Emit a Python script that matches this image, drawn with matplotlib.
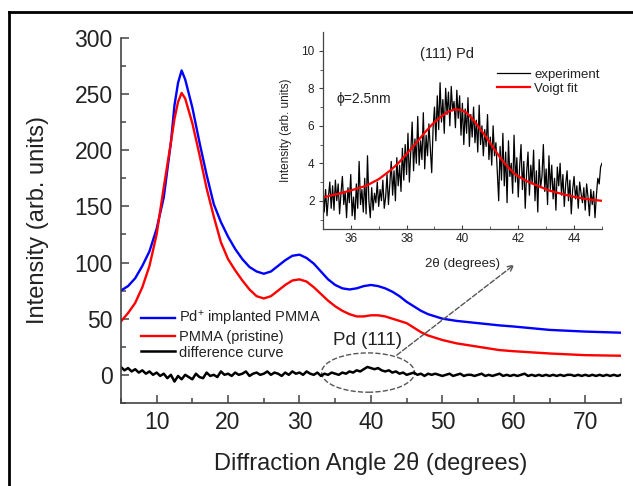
import matplotlib
matplotlib.use('Agg')
import matplotlib.pyplot as plt
from matplotlib.patches import Ellipse
from matplotlib.lines import Line2D
import numpy as np

plt.rcParams['font.family'] = ['Liberation Sans', 'DejaVu Sans']
plt.rcParams['mathtext.fontset'] = 'custom'
plt.rcParams['mathtext.rm'] = 'Liberation Sans'
plt.rcParams['mathtext.it'] = 'Liberation Sans:italic'

# main panel: broad PMMA scans
angle = [5, 6, 7, 8, 9, 10, 11, 12, 12.5, 13, 13.5, 14, 15, 16, 17, 18, 19, 20,
         21, 22, 23, 24, 25, 26, 27, 28, 29, 30, 31, 32, 33, 34, 35, 36, 37, 38,
         39, 40, 41, 42, 43, 44, 45, 46, 47, 48, 49, 50, 52, 55, 58, 60, 65, 70, 75]
pd_implanted = [75, 79, 86, 97, 110, 130, 158, 207, 240, 260, 271, 263, 238, 207,
                178, 152, 136, 123, 112, 103, 96, 92, 90, 92, 97, 102, 106, 107,
                104, 99, 92, 85, 80, 77, 76, 77, 79, 80, 79, 77, 74, 70, 65, 61,
                57, 54, 52, 50, 48, 46, 44, 43, 40, 38.5, 37.5]
pmma_pristine = [47.5, 55, 64, 78, 97, 125, 167, 207, 228, 243, 251, 246, 224,
                 196, 166, 141, 118, 103, 93, 84, 76, 70, 68, 70, 75, 80, 84, 85,
                 83, 78, 72, 66, 61, 57, 54, 52, 52, 53, 53, 52, 50, 48, 46, 42,
                 38, 35, 33, 31, 28, 25, 22, 21, 19, 17.5, 17]

# difference curve, every 0.5 degree from 5 to 75
diff_angle = [5 + 0.5 * i for i in range(141)]
difference = [7, 4, 6, 3, 5, 2, 4, 1, 3, 0,
              2, -1, 1, -3, 0, -6, -1, -4, 0, -2,
              -4, 1, -2, -3, 2, -1, 0, -2, 3, 0,
              1, -1, 2, 0, 1, 3, -1, 1, 2, 0,
              1, 3, 0, 2, 1, -1, 2, 0, 3, 1,
              2, 0, 3, 1, 0, 2, -1, 1, 0, 2,
              1, 0, 2, 1, 3, 2, 4, 3, 5, 7,
              6, 5, 6, 4, 3, 4, 2, 3, 1, 2,
              0, 1, 2, 0, 1, -1, 1, 0, 1, 0,
              -1, 0, 1, -1, 0, 1, -1, 0, 0, -1,
              0, 1, -1, 0, -1, 0, 1, -1, 0, -1,
              0, -1, 0, 1, -1, 0, -1, 0, -1, 0,
              -1, 0, -1, 0, -1, 0, 0, -1, 0, -1,
              0, -1, 0, -1, 0, -1, 0, -1, 0, -1, 0]

# inset: (111) Pd reflection, every 0.05 degree from 35 to 45
exp_angle = [35 + 0.05 * i for i in range(201)]
experiment = [2.9, 1.4, 2.6, 1.2, 2.2, 3.0, 1.6, 2.8, 1.5, 3.1,
              2.0, 2.9, 1.3, 2.4, 3.3, 1.8, 2.5, 1.1, 2.7, 1.9,
              3.4, 1.2, 2.2, 1.0, 2.9, 1.6, 4.1, 1.8, 2.6, 1.4,
              3.2, 1.3, 4.4, 2.0, 1.1, 2.7, 1.5, 2.4, 1.9, 3.0,
              1.7, 2.6, 2.0, 3.1, 1.6, 2.2, 3.4, 1.8, 2.9, 4.1,
              2.3, 3.6, 2.0, 4.3, 2.8, 3.9, 2.5, 4.8, 3.1, 5.0,
              3.4, 5.6, 3.0, 4.6, 6.2, 3.6, 5.3, 4.0, 6.5, 3.9,
              5.2, 4.2, 6.7, 3.7, 5.5, 4.4, 6.1, 4.8, 3.5, 5.9,
              7.0, 5.2, 7.6, 5.8, 8.3, 6.2, 7.4, 5.6, 8.0, 6.6,
              7.8, 6.0, 8.1, 6.8, 7.3, 5.9, 7.9, 6.4, 7.6, 5.5,
              7.2, 5.0, 6.9, 5.6, 7.5, 4.9, 6.6, 5.4, 7.0, 5.1,
              6.3, 4.6, 7.1, 5.0, 6.0, 4.4, 5.8, 4.9, 6.6, 4.2,
              5.4, 3.9, 6.0, 4.4, 5.1, 3.6, 2.0, 4.9, 3.1, 5.6,
              2.8, 4.6, 1.9, 5.2, 3.3, 4.0, 2.4, 5.5, 3.0, 4.3,
              2.2, 3.8, 5.0, 2.6, 4.1, 1.6, 3.5, 4.6, 2.3, 3.9,
              2.9, 4.7, 2.0, 3.6, 1.4, 4.2, 2.7, 3.3, 5.0, 2.5,
              3.7, 1.8, 4.4, 2.6, 3.9, 2.1, 3.2, 1.5, 3.8, 2.8,
              4.0, 2.3, 3.4, 1.7, 2.9, 3.6, 2.0, 3.1, 1.3, 2.6,
              3.3, 2.1, 2.8, 1.6, 3.0, 2.4, 1.9, 2.7, 1.5, 2.9,
              2.2, 1.2, 2.6, 1.8, 2.5, 1.1, 2.3, 3.2, 2.9, 3.8,
              4.0]
fit_angle = [35.0, 35.5, 36.0, 36.55, 37.0, 37.4, 37.7, 38.0, 38.3, 38.6, 38.9,
             39.2, 39.45, 39.72, 39.95, 40.15, 40.4, 40.6, 40.85, 41.1, 41.35,
             41.6, 41.9, 42.3, 42.7, 43.1, 43.6, 44.1, 44.5, 45.0]
voigt_fit = [2.18, 2.35, 2.55, 2.8, 3.15, 3.6, 4.0, 4.5, 5.0, 5.55, 6.05,
             6.45, 6.72, 6.88, 6.85, 6.7, 6.3, 5.9, 5.4, 4.85, 4.3,
             3.85, 3.4, 3.05, 2.8, 2.55, 2.35, 2.18, 2.08, 2.0]

ink = '#222222'
spine = '#444444'

fig = plt.figure(figsize=(6.33, 4.86), dpi=100)
ax = fig.add_axes([0.191, 0.171, 0.790, 0.751])

ax.plot(angle, pd_implanted, color='#0000ff', lw=1.7, label=r'Pd$^{+}$ implanted PMMA')
ax.plot(angle, pmma_pristine, color='#ff0000', lw=1.7, label='PMMA (pristine)')
ax.plot(diff_angle, difference, color='black', lw=1.8, label='difference curve')

ax.set_xlim(5, 75)
ax.set_ylim(-25, 300)
ax.set_xticks([10, 20, 30, 40, 50, 60, 70])
ax.set_xticks(np.arange(5, 76, 5), minor=True)
ax.set_yticks([0, 50, 100, 150, 200, 250, 300])
ax.set_yticks(np.arange(-25, 301, 25), minor=True)
for s in ['top', 'right']:
    ax.spines[s].set_visible(False)
for s in ['left', 'bottom']:
    ax.spines[s].set_color(spine)
    ax.spines[s].set_linewidth(1.2)
ax.tick_params(which='both', direction='in', color=spine, width=1.1, labelcolor=ink)
ax.tick_params(which='major', length=6, labelsize=16.5, pad=6)
ax.tick_params(which='minor', length=3.5)
ax.set_xlabel('Diffraction Angle 2\u03b8 (degrees)', fontsize=17, color=ink, labelpad=13)
ax.set_ylabel('Intensity (arb. units)', fontsize=17, color=ink, labelpad=18)

ax.legend(loc='upper left', bbox_to_anchor=(0.02, 0.285), frameon=False,
          fontsize=10.5, handlelength=2.3, handletextpad=0.3, labelspacing=0.12,
          borderpad=0.2, labelcolor=ink)

ax.add_patch(Ellipse((39.6, 2), 13, 35, fill=False, ls='--', lw=1, ec='#555555'))
ax.text(39.5, 23, 'Pd (111)', fontsize=13.5, color=ink, ha='center', va='bottom')
ax.annotate('', xy=(60.4, 99.7), xytext=(43.3, 16),
            arrowprops=dict(arrowstyle='->', ls='--', lw=1, color='#555555'))

# inset
ins = fig.add_axes([0.510, 0.529, 0.441, 0.405])
ins.plot(exp_angle, experiment, color='black', lw=0.9, label='experiment')
ins.plot(fit_angle, voigt_fit, color='#ff0000', lw=1.6, label='Voigt fit')
ins.set_xlim(35, 45)
ins.set_ylim(0.5, 11)
ins.set_xticks([36, 38, 40, 42, 44])
ins.set_xticks(np.arange(35, 46, 1), minor=True)
ins.set_yticks([2, 4, 6, 8, 10])
ins.set_yticks(np.arange(1, 11, 1), minor=True)
for s in ['top', 'right']:
    ins.spines[s].set_visible(False)
for s in ['left', 'bottom']:
    ins.spines[s].set_color(spine)
    ins.spines[s].set_linewidth(0.9)
ins.tick_params(axis='x', which='both', direction='in', color=spine)
ins.tick_params(axis='y', which='both', direction='out', color=spine)
ins.tick_params(which='major', length=3, labelsize=8.5, labelcolor=ink, pad=3)
ins.tick_params(which='minor', length=2.5)
ins.set_xlabel('2\u03b8 (degrees)', fontsize=9.5, color=ink, labelpad=9)
ins.set_ylabel('Intensity (arb. units)', fontsize=8.5, color=ink, labelpad=7)
ins.text(0.444, 0.888, '(111) Pd', transform=ins.transAxes, fontsize=10.5, color=ink,
         ha='center', va='center')
ins.text(0.05, 0.64, '\u03d5=2.5nm', transform=ins.transAxes, fontsize=10, color=ink)
ins.legend(loc='upper right', bbox_to_anchor=(1.02, 0.855), frameon=False,
           fontsize=9.5, handlelength=2.5, handletextpad=0.3, labelspacing=0.15,
           borderpad=0.1, labelcolor=ink)

# outer frame (left and top edges only)
fig.add_artist(Line2D([9 / 633, 9 / 633], [0, 1 - 12 / 486], color='black', lw=2))
fig.add_artist(Line2D([9 / 633, 1], [1 - 12 / 486, 1 - 12 / 486], color='black', lw=2))

fig.savefig('out.png', dpi=100)
